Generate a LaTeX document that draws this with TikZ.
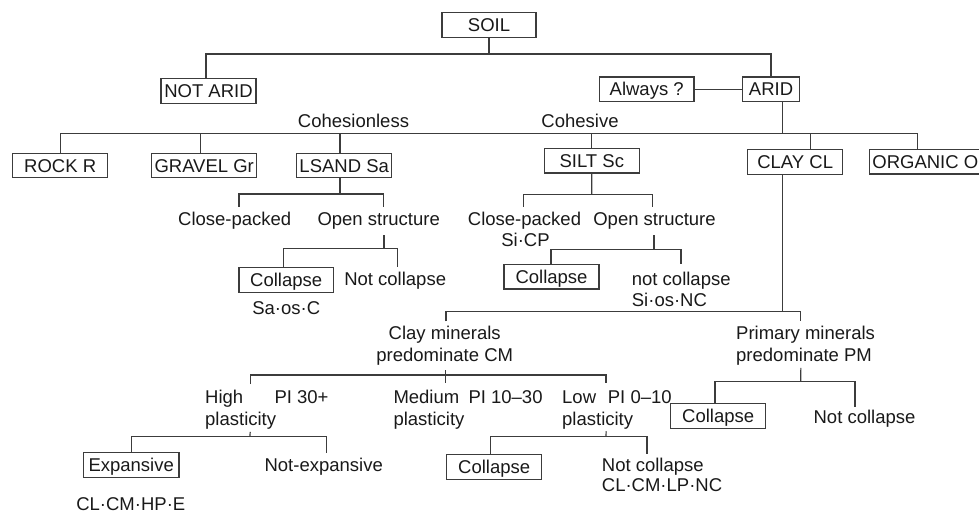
\documentclass[tikz,border=0pt]{standalone}
\usepackage{fontspec}
\setmainfont{Liberation Sans}
\newcommand\dfont{\fontsize{18.5}{21.5}\selectfont}
\definecolor{lc}{RGB}{60,60,60}
\definecolor{tc}{RGB}{25,25,25}
\begin{document}
\begin{tikzpicture}[x=1pt,y=-1pt,
  box/.style={draw=lc, line width=1.2pt, inner sep=0pt, text height=13.3pt, text depth=0pt,
    minimum height=24.5pt, minimum width=95pt, font=\dfont, text=tc},
  txt/.style={inner sep=0pt, text height=13.3pt, text depth=0pt, font=\dfont, text=tc},
  ln/.style={draw=lc, line width=1.2pt}]
\useasboundingbox (0,0) rectangle (979,514);

% ---- nodes ----
\node[box, minimum width=94pt] (soil) at (489,25) {SOIL};
\node[box] (notarid) at (208.5,91) {NOT ARID};
\node[box, minimum width=94.7pt] (always) at (646.7,89.3) {Always ?};
\node[box, minimum width=56.6pt] (arid) at (771,89.3) {ARID};

\node[txt] (cohesionless) at (353.5,121) {Cohesionless};
\node[txt] (cohesive) at (580,121) {Cohesive};

\node[box] (rock) at (60.2,165.5) {ROCK R};
\node[box, minimum width=105pt] (gravel) at (204.2,165.5) {GRAVEL Gr};
\node[box] (lsand) at (344.2,165.5) {LSAND Sa};
\node[box] (silt) at (591.8,160.7) {SILT Sc};
\node[box, minimum width=95pt] (clay) at (795.2,162) {CLAY CL};
\node[box, minimum width=112pt] (organic) at (925.3,161.7) {ORGANIC O};

\node[txt] (cp1) at (234.7,219) {Close-packed};
\node[txt] (os1) at (378.7,219) {Open structure};
\node[box, minimum width=94.3pt] (collapse1) at (286.2,280) {Collapse};
\node[txt] (nc1) at (395.2,279.3) {Not collapse};
\node[txt] (sa) at (286.2,307.7) {Sa·os·C};

\node[txt] (cp2) at (524.5,219) {Close-packed};
\node[txt] (sicp) at (525.5,240) {Si·CP};
\node[txt] (os2) at (654.5,219) {Open structure};
\node[box] (collapse2) at (551.5,276.7) {Collapse};
\node[txt, anchor=west] (nc2) at (631.7,279) {not collapse};
\node[txt, anchor=west] (sinc) at (631.7,300) {Si·os·NC};

\node[txt] (cm1) at (444.7,333.3) {Clay minerals};
\node[txt] (cm2) at (444.7,355) {predominate CM};
\node[txt, anchor=west] (pm1) at (736,333.3) {Primary minerals};
\node[txt, anchor=west] (pm2) at (736,355) {predominate PM};

\node[txt, anchor=west] (high) at (205,396.7) {High};
\node[txt, anchor=west] (pi30) at (274.3,396.7) {PI 30+};
\node[txt, anchor=west] (pl1) at (205,419.3) {plasticity};
\node[txt, anchor=west] (med) at (393.3,396.7) {Medium};
\node[txt, anchor=west] (pi1030) at (468.3,396.7) {PI 10–30};
\node[txt, anchor=west] (pl2) at (393.3,419.3) {plasticity};
\node[txt, anchor=west] (low) at (562,396.7) {Low};
\node[txt, anchor=west] (pi010) at (607.7,396.7) {PI 0–10};
\node[txt, anchor=west] (pl3) at (562,419.3) {plasticity};

\node[box, minimum width=95.7pt] (expansive) at (131.2,465) {Expansive};
\node[txt] (nexp) at (323.7,465) {Not-expansive};
\node[txt] (clhp) at (130.8,504) {CL·CM·HP·E};
\node[box] (collapse3) at (494.2,467) {Collapse};
\node[txt, anchor=west] (nc3) at (601.7,465) {Not collapse};
\node[txt, anchor=west] (cllp) at (601.7,485) {CL·CM·LP·NC};
\node[box] (collapse4) at (718.2,416) {Collapse};
\node[txt] (nc4) at (864.5,416.7) {Not collapse};

% ---- junctions ----
\coordinate (j1) at (489,54);
\coordinate (j2) at (782.3,133.3);
\coordinate (j3) at (340,194);
\coordinate (j4) at (384,248.3);
\coordinate (j5) at (591.7,194.3);
\coordinate (j6) at (654,249.3);
\coordinate (j7) at (782.3,311.7);
\coordinate (j8) at (445.7,375);
\coordinate (tmed) at (445.7,382.7);
\coordinate (dhigh) at (250.7,384);
\coordinate (dlow) at (606,383.3);
\coordinate (j9) at (250,436.7);
\coordinate (j10) at (606,436.7);
\coordinate (j11) at (800.7,381.7);

% ---- connectors ----
\draw[ln] (soil.south) -- (j1);
\draw[ln] ([xshift=-2.5pt]notarid.north) |- (j1) -| (arid.north);
\draw[ln] (always) -- (arid);

\draw[ln] (arid.south -| j2) -- (j2);
\draw[ln] ([xshift=0.5pt]rock.north) |- ([xshift=-7.6pt]organic.north |- j2) -- ([xshift=-7.6pt]organic.north);
\draw[ln] ([xshift=-3.5pt]gravel.north) -- ([xshift=-3.5pt]gravel.north |- j2);
\draw[ln] ([xshift=-4.2pt]lsand.north) -- ([xshift=-4.2pt]lsand.north |- j2);
\draw[ln] (silt.north) -- (silt.north |- j2);
\draw[ln] ([xshift=15.5pt]clay.north) -- ([xshift=15.5pt]clay.north |- j2);

% LSAND
\draw[ln] ([xshift=-4.2pt]lsand.south) -- (j3);
\draw[ln] ([xshift=4.3pt,yshift=5.6pt]cp1.north) |- (j3) -| ([xshift=4.6pt,yshift=5.6pt]os1.north);
\draw[ln] ([xshift=5.3pt,yshift=-9.3pt]os1.south) -- (j4);
\draw[ln] ([xshift=-2.9pt]collapse1.north) |- (j4) -| ([xshift=2.5pt,yshift=5.6pt]nc1.north);

% SILT
\draw[ln] (silt.south) -- (j5);
\draw[ln] ([xshift=-1.2pt,yshift=5.6pt]cp2.north) |- (j5) -| ([xshift=-1.8pt,yshift=5.6pt]os2.north);
\draw[ln] ([xshift=-0.5pt,yshift=-9.3pt]os2.south) -- (j6);
\draw[ln] ([xshift=-0.5pt]collapse2.north) |- (j6) -| ([xshift=-0.3pt,yshift=8.3pt]nc2.north);

% CLAY
\draw[ln] ([xshift=-12.9pt]clay.south) -- (j7);
\draw[ln] ([xshift=1.3pt,yshift=5pt]cm1.north) |- (j7) -| ([xshift=-4.7pt,yshift=5pt]pm1.north);

% Clay minerals
\draw[ln] ([xshift=1pt,yshift=-8.3pt]cm2.south) -- (tmed);
\draw[ln] (dhigh) |- (j8) -| (dlow);
\draw[ln] ([xshift=9.5pt,yshift=-5.7pt]pl1.south) -- (j9);
\draw[ln] ([xshift=0.5pt]expansive.north) |- (j9) -| ([xshift=3pt,yshift=5.6pt]nexp.north);
\draw[ln] ([xshift=8.5pt,yshift=-5.1pt]pl3.south) -- (j10);
\draw[ln] ([xshift=-3.5pt]collapse3.north) |- (j10) -| ([xshift=-5.9pt,yshift=4.3pt]nc3.north);

% Primary minerals
\draw[ln] ([xshift=-3.2pt,yshift=-6pt]pm2.south) -- (j11);
\draw[ln] ([xshift=-3.2pt]collapse4.north) |- (j11) -| ([xshift=-9.5pt,yshift=3.3pt]nc4.north);
\end{tikzpicture}
\end{document}
